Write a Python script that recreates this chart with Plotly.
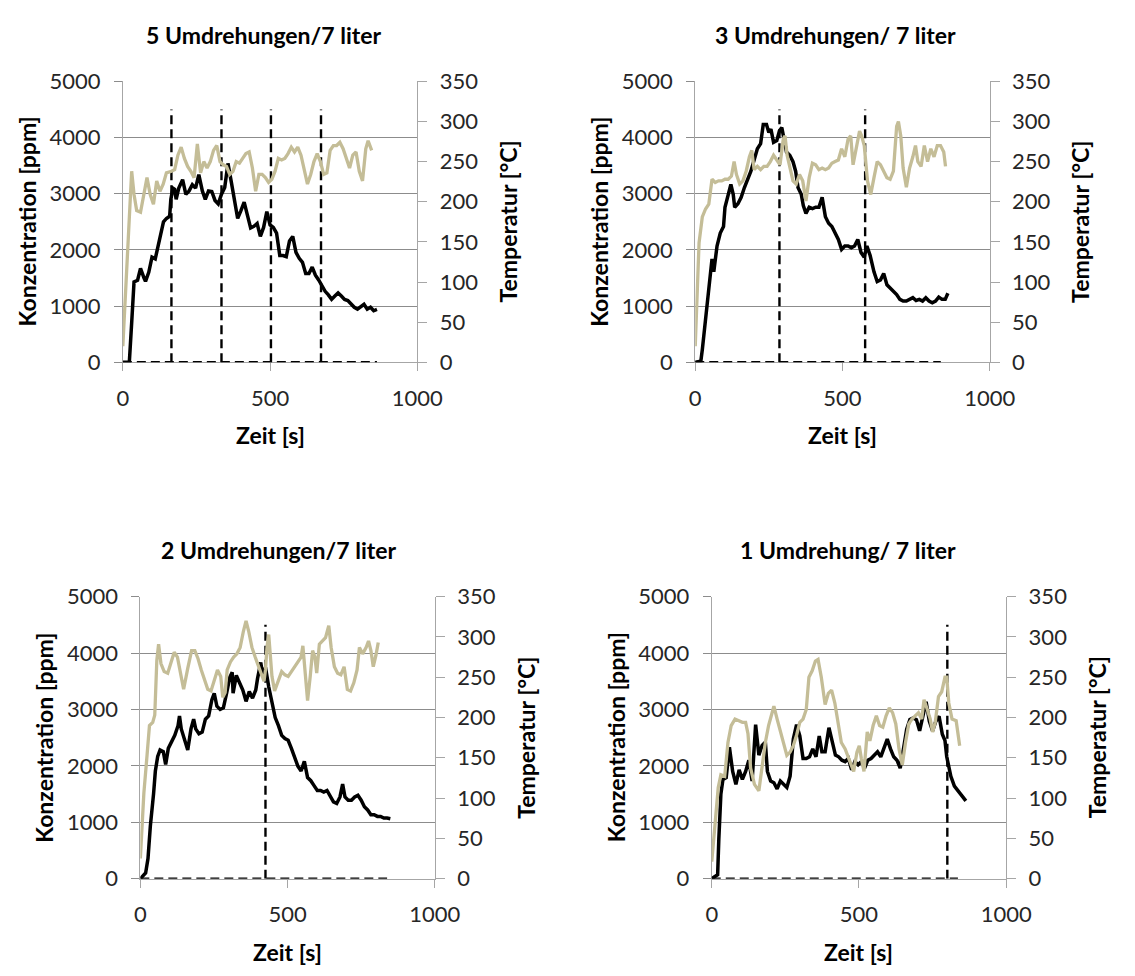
import plotly.graph_objects as go

# ---------------- data ----------------
titles = ["5 Umdrehungen/7 liter", "3 Umdrehungen/ 7 liter",
          "2 Umdrehungen/7 liter", "1 Umdrehung/ 7 liter"]

# Panel 1: 5 Umdrehungen
p1_t_conc = [0, 22, 30, 38, 50, 60, 72, 77, 88, 99, 110, 121, 132, 138, 148, 159, 163, 170, 176, 181, 190,
             203, 214, 225, 236, 247, 258, 270, 280, 291, 302, 313, 324, 335, 346, 357, 368, 380, 390, 401,
             412, 423, 434, 445, 456, 467, 478, 489, 500, 511, 522, 533, 544, 555, 566, 577, 588, 599, 610,
             621, 632, 643, 654, 665, 676, 687, 698, 709, 720, 731, 742, 753, 764, 775, 786, 797, 808, 819,
             830, 841, 852, 863]
p1_conc = [0, 0, 700, 1430, 1460, 1670, 1500, 1440, 1600, 1870, 1840, 2100, 2300, 2500, 2560, 2600, 2900,
           3100, 3080, 2900, 3100, 3250, 2990, 3050, 3160, 3100, 3340, 3050, 2900, 3050, 3040, 2880, 2820,
           2990, 3110, 3540, 3220, 2820, 2560, 2700, 2850, 2620, 2390, 2420, 2470, 2240, 2400, 2680, 2445,
           2400, 2300, 1900, 1900, 1880, 2160, 2240, 1955, 1850, 1780, 1580, 1580, 1695, 1550, 1465, 1350,
           1263, 1200, 1120, 1180, 1234, 1180, 1120, 1100, 1032, 980, 946, 980, 1032, 946, 980, 917, 940]
p1_t_temp = [0, 14, 30, 38, 47, 60, 71, 82, 93, 104, 115, 126, 137, 148, 165, 176, 187, 198, 209, 220,
             231, 242, 253, 264, 275, 286, 297, 308, 319, 330, 341, 352, 363, 374, 385, 396, 407, 418, 429,
             440, 451, 462, 473, 484, 495, 506, 517, 528, 539, 550, 561, 572, 583, 594, 605, 616, 627, 638,
             649, 660, 671, 682, 693, 704, 715, 726, 737, 748, 759, 770, 781, 792, 803, 814, 825, 833, 845]
p1_temp = [20, 129, 238, 209, 189, 187, 209, 230, 209, 197, 226, 213, 222, 236, 238, 240, 258, 268, 254,
           244, 238, 230, 272, 236, 250, 242, 250, 264, 270, 250, 246, 244, 234, 238, 250, 248, 254, 260,
           262, 242, 213, 234, 234, 230, 224, 228, 238, 254, 252, 254, 260, 268, 262, 268, 258, 238, 222,
           234, 250, 260, 250, 234, 236, 264, 270, 270, 274, 266, 254, 242, 258, 262, 238, 226, 266, 276, 264]
p1_events = [165, 335, 503, 673]
p1_end = 863

# Panel 2: 3 Umdrehungen
p2_t_conc = [0, 19, 24, 35, 46, 57, 63, 74, 85, 96, 101, 112, 121, 129, 134, 145, 156, 167, 178, 189, 200,
             211, 222, 231, 242, 250, 257, 266, 277, 286, 294, 301, 310, 321, 332, 341, 349, 360, 367, 376,
             387, 398, 409, 420, 431, 442, 453, 464, 475, 486, 497, 508, 519, 530, 541, 552, 563, 574, 583,
             594, 607, 618, 629, 640, 651, 662, 673, 684, 695, 706, 717, 728, 739, 750, 761, 772, 783, 794,
             805, 816, 827, 838, 849, 858]
p2_conc = [0, 20, 225, 800, 1380, 1840, 1610, 2070, 2300, 2416, 2760, 2990, 3165, 2990, 2760, 2820, 2935,
           3110, 3250, 3400, 3600, 3800, 3890, 4230, 4230, 4090, 4150, 3915, 3945, 4120, 4175, 3975, 3740,
           3685, 3570, 3400, 3110, 2990, 2790, 2650, 2760, 2735, 2760, 2760, 2935, 2590, 2475, 2416, 2300,
           2185, 2010, 2070, 2070, 2040, 2070, 2185, 1955, 1870, 2070, 1900, 1610, 1436, 1465, 1580, 1380,
           1320, 1263, 1205, 1120, 1090, 1090, 1120, 1150, 1100, 1120, 1090, 1150, 1090, 1060, 1090, 1160,
           1120, 1120, 1230]
p2_t_temp = [0, 8, 13, 24, 35, 46, 57, 68, 79, 90, 101, 112, 123, 132, 140, 151, 162, 173, 184, 192, 200,
             211, 222, 233, 244, 255, 266, 277, 288, 299, 305, 312, 321, 332, 343, 354, 365, 376, 387, 398,
             409, 420, 431, 442, 453, 464, 475, 486, 497, 508, 519, 528, 536, 547, 558, 565, 574, 585, 596,
             607, 618, 629, 640, 651, 662, 673, 684, 690, 698, 706, 717, 728, 739, 748, 756, 767, 778, 789,
             800, 811, 822, 833, 844, 850]
p2_temp = [20, 105, 149, 181, 191, 197, 228, 224, 226, 226, 228, 228, 232, 250, 234, 222, 226, 238, 256,
           264, 240, 244, 240, 244, 244, 250, 258, 252, 246, 278, 282, 258, 242, 226, 222, 234, 226, 201,
           230, 248, 246, 240, 242, 240, 242, 248, 250, 252, 266, 256, 278, 282, 246, 266, 288, 282, 270,
           226, 209, 230, 250, 246, 238, 230, 228, 238, 294, 300, 282, 242, 218, 242, 256, 270, 250, 244,
           270, 250, 266, 256, 270, 270, 262, 244]
p2_events = [286, 577]
p2_end = 834

# Panel 3: 2 Umdrehungen
p3_t_conc = [0, 18, 26, 34, 45, 51, 59, 67, 78, 86, 95, 106, 117, 128, 133, 139, 150, 161, 172, 181, 188,
             199, 210, 221, 232, 243, 251, 260, 271, 282, 293, 304, 312, 315, 326, 337, 348, 359, 370, 381,
             392, 398, 409, 416, 425, 436, 447, 458, 469, 480, 491, 502, 513, 524, 535, 546, 557, 568, 579,
             590, 601, 612, 623, 634, 645, 656, 667, 678, 687, 695, 706, 717, 728, 739, 750, 761, 772, 783,
             794, 805, 816, 827, 838, 849]
p3_conc = [0, 100, 356, 930, 1506, 1908, 2167, 2282, 2250, 2023, 2310, 2425, 2540, 2712, 2885, 2655, 2483,
           2282, 2655, 2828, 2655, 2569, 2598, 2828, 2885, 3172, 3287, 3057, 3000, 3029, 3287, 3575, 3660,
           3287, 3603, 3488, 3345, 3144, 3316, 3201, 3345, 3546, 3833, 3575, 3747, 3402, 3115, 2856, 2712,
           2540, 2483, 2454, 2310, 2138, 1994, 1908, 2080, 1793, 1736, 1649, 1563, 1563, 1534, 1563, 1448,
           1362, 1333, 1448, 1678, 1448, 1391, 1391, 1448, 1477, 1391, 1276, 1218, 1132, 1132, 1103, 1103,
           1075, 1075, 1063]
p3_t_temp = [0, 12, 23, 31, 42, 49, 56, 62, 70, 81, 93, 104, 115, 126, 137, 147, 161, 174, 185, 196, 207,
             218, 229, 240, 251, 262, 273, 280, 288, 295, 306, 317, 328, 339, 350, 359, 368, 379, 390, 401,
             412, 420, 425, 430, 436, 441, 447, 456, 467, 480, 491, 502, 513, 524, 535, 546, 552, 559, 568,
             577, 585, 593, 599, 608, 618, 629, 640, 648, 659, 670, 681, 692, 703, 714, 725, 736, 744, 755,
             767, 775, 783, 791, 800, 808]
p3_temp = [25, 106, 154, 190, 194, 203, 271, 291, 267, 257, 255, 267, 281, 275, 251, 235, 261, 283, 283,
           273, 259, 247, 235, 233, 247, 259, 251, 225, 231, 259, 269, 275, 279, 287, 307, 320, 307, 287,
           275, 263, 251, 245, 259, 287, 303, 283, 251, 233, 245, 257, 253, 251, 257, 263, 269, 275, 289,
           255, 221, 251, 283, 275, 255, 291, 295, 299, 314, 287, 263, 255, 253, 263, 235, 233, 243, 259,
           287, 279, 287, 295, 283, 263, 277, 293]
p3_events = [425]
p3_end = 838

# Panel 4: 1 Umdrehung
p4_t_conc = [0, 20, 24, 31, 38, 49, 60, 71, 82, 93, 104, 115, 126, 137, 149, 160, 171, 182, 189, 200, 211,
             222, 233, 244, 255, 266, 277, 288, 299, 310, 321, 332, 343, 354, 365, 374, 385, 398, 409, 420,
             431, 442, 453, 464, 475, 486, 497, 508, 519, 530, 541, 552, 563, 574, 585, 596, 607, 618, 629,
             640, 651, 662, 673, 684, 695, 706, 717, 728, 739, 750, 761, 772, 783, 792, 798, 812, 824, 842,
             863]
p4_conc = [0, 70, 700, 1500, 1760, 1790, 2330, 1900, 1673, 1930, 1760, 1900, 2100, 1730, 2730, 2190, 2360,
           2420, 1900, 1730, 1700, 1590, 1730, 1673, 1616, 1816, 2475, 2730, 2530, 2130, 2130, 2160, 2300,
           2160, 2530, 2250, 2250, 2676, 2420, 2190, 2160, 2100, 2075, 2130, 1930, 2075, 2020, 2075, 1960,
           2100, 2130, 2190, 2250, 2160, 2300, 2475, 2300, 2160, 2100, 1960, 2300, 2650, 2820, 2850, 2820,
           2620, 2880, 3135, 2790, 2620, 2790, 2880, 2560, 2450, 2160, 1815, 1640, 1527, 1380]
p4_t_temp = [0, 11, 22, 31, 44, 55, 66, 79, 93, 104, 115, 123, 132, 145, 160, 171, 182, 193, 204, 211, 222,
             233, 244, 255, 266, 277, 288, 299, 310, 321, 330, 341, 352, 361, 372, 385, 396, 407, 418, 429,
             440, 453, 462, 473, 482, 493, 501, 508, 517, 528, 537, 548, 559, 570, 581, 592, 603, 614, 625,
             636, 647, 658, 669, 680, 691, 702, 713, 721, 732, 742, 750, 759, 770, 781, 792, 798, 805, 816,
             830, 842]
p4_temp = [21, 73, 113, 129, 127, 169, 190, 198, 196, 194, 194, 180, 137, 117, 109, 141, 169, 190, 206, 214,
           198, 182, 165, 153, 157, 165, 178, 194, 198, 210, 250, 258, 270, 272, 250, 216, 230, 234, 218,
           190, 169, 161, 153, 141, 133, 157, 165, 149, 133, 182, 171, 190, 202, 190, 188, 202, 212, 206,
           192, 161, 141, 169, 192, 198, 202, 206, 198, 222, 210, 198, 182, 194, 226, 232, 250, 250, 218,
           198, 196, 165]
p4_events = [800]
p4_end = 836

panels = [
    (p1_t_conc, p1_conc, p1_t_temp, p1_temp, p1_events, p1_end),
    (p2_t_conc, p2_conc, p2_t_temp, p2_temp, p2_events, p2_end),
    (p3_t_conc, p3_conc, p3_t_temp, p3_temp, p3_events, p3_end),
    (p4_t_conc, p4_conc, p4_t_temp, p4_temp, p4_events, p4_end),
]
event_level = 4500

# ---------------- layout geometry (screen pixels of the photographed page) ----------------
W, H = 1135, 976
PAGE_OFFSET = 8  # default body margin of the html page
boxes = [(120, 423, 69, 358), (709, 1012, 69, 358),
         (138, 441, 599, 889), (726, 1029, 599, 889)]
title_pos = [(265, 21), (853, 21), (281, 551), (866, 551)]


def px(x):
    return (x - PAGE_OFFSET) / W


def py(y):
    return 1 - (y - PAGE_OFFSET) / H


FONT = "Lato"
BEIGE = "#C4BD97"
GRID = "#8C8C8C"
AXIS = "#A6A6A6"
TICKFONT = dict(family=FONT, size=22, color="#262626")
TITLEFONT = dict(family=FONT, size=23, color="#000000")
AXTITLEFONT = dict(family=FONT, size=23, color="#000000")

fig = go.Figure()
layout = dict(width=W, height=H, margin=dict(l=0, r=0, t=0, b=0),
              paper_bgcolor="white", plot_bgcolor="white", showlegend=False,
              annotations=[])

for i, (tc, c, tt, tv, ev, tend) in enumerate(panels):
    k = i + 1
    xa = "x" if k == 1 else f"x{k}"
    ylname = "y" if k == 1 else f"y{2*k-1}"
    yrname = f"y{2*k}"
    xl, xr, yt, yb = boxes[i]

    fig.add_trace(go.Scatter(x=tc, y=c, mode="lines", line=dict(color="black", width=3.5),
                             xaxis=xa, yaxis=ylname, hoverinfo="skip", cliponaxis=False))
    fig.add_trace(go.Scatter(x=tt, y=tv, mode="lines", line=dict(color=BEIGE, width=3.3),
                             xaxis=xa, yaxis=yrname, hoverinfo="skip"))
    # dashed event signal
    dx, dy = [0, tend], [0, 0]
    for e in ev:
        dx += [None, e, e]
        dy += [None, 0, event_level]
    fig.add_trace(go.Scatter(x=dx, y=dy, mode="lines",
                             line=dict(color="black", width=2.4, dash="9px,5px"),
                             xaxis=xa, yaxis=ylname, hoverinfo="skip", cliponaxis=False))

    xkey = "xaxis" if k == 1 else f"xaxis{k}"
    ylkey = "yaxis" if k == 1 else f"yaxis{2*k-1}"
    yrkey = f"yaxis{2*k}"

    layout[xkey] = dict(domain=[px(xl), px(xr)], range=[0, 1000], tickvals=[0, 500, 1000],
                        showgrid=False, zeroline=False, showline=True, linecolor=AXIS,
                        ticks="outside", ticklen=8, tickcolor=AXIS, tickfont=TICKFONT,
                        ticklabelstandoff=8, anchor=ylname, fixedrange=True, layer="below traces")
    layout[ylkey] = dict(domain=[py(yb), py(yt)], range=[0, 5000],
                         tickvals=[0, 1000, 2000, 3000, 4000, 5000],
                         showgrid=True, gridcolor=GRID, gridwidth=1, zeroline=False,
                         showline=True, linecolor=AXIS, ticks="outside", ticklen=8, tickcolor=GRID,
                         tickfont=TICKFONT, ticklabelstandoff=9,
                         anchor=xa, fixedrange=True, layer="below traces")
    layout[yrkey] = dict(domain=[py(yb), py(yt)], range=[0, 350], tickvals=list(range(0, 351, 50)),
                         overlaying=ylname, side="right", anchor=xa,
                         showgrid=False, zeroline=False, showline=True, linecolor=AXIS,
                         ticks="outside", ticklen=9, tickcolor=AXIS, tickfont=TICKFONT,
                         ticklabelstandoff=8, fixedrange=True, layer="below traces")

    tx, ty = title_pos[i]
    layout["annotations"].append(dict(text=f"<b>{titles[i]}</b>", x=px(tx), y=py(ty), xref="paper",
                                      yref="paper", showarrow=False, font=TITLEFONT,
                                      xanchor="center", yanchor="middle"))
    ymid = (yt + yb) / 2
    layout["annotations"].append(dict(text="<b>Konzentration [ppm]</b>", x=px(xl - 99), y=py(ymid),
                                      xref="paper", yref="paper", showarrow=False, textangle=-90,
                                      font=AXTITLEFONT, xanchor="center", yanchor="middle"))
    layout["annotations"].append(dict(text="<b>Temperatur [°C]</b>", x=px(xr + 93), y=py(ymid),
                                      xref="paper", yref="paper", showarrow=False, textangle=-90,
                                      font=AXTITLEFONT, xanchor="center", yanchor="middle"))
    layout["annotations"].append(dict(text="<b>Zeit [s]</b>", x=px((xl + xr) / 2), y=py(yb + 75),
                                      xref="paper", yref="paper", showarrow=False,
                                      font=AXTITLEFONT, xanchor="center", yanchor="middle"))

fig.update_layout(**layout)
fig.write_html("out.html")
